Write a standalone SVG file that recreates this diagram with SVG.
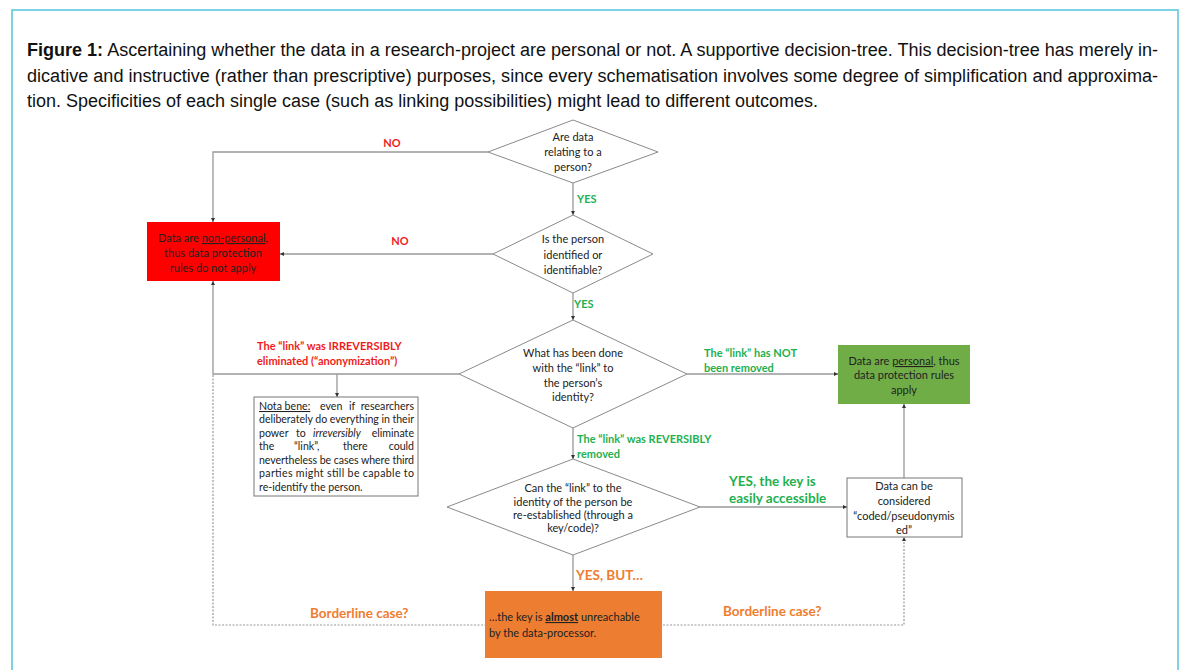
<svg xmlns="http://www.w3.org/2000/svg" width="1180" height="670" viewBox="0 0 1180 670">
<defs>
<marker id="ah" viewBox="0 0 6 6" refX="6" refY="3" markerWidth="4" markerHeight="4" markerUnits="userSpaceOnUse" orient="auto">
<path d="M0,0 L6,3 L0,6 Z" fill="#333"/>
</marker>
</defs>
<style>
.cap{font-family:"Liberation Sans",Arial,sans-serif;font-size:18px;fill:#111}
.t{font-family:Lato,"Open Sans",sans-serif;font-size:11px;fill:#222}
.nb{font-family:Lato,"Open Sans",sans-serif;font-size:10.6px;fill:#222}
.c{text-anchor:middle}
.lbl{font-family:Lato,"Open Sans",sans-serif;font-size:11px;font-weight:bold}
.big{font-family:Lato,"Open Sans",sans-serif;font-size:13.5px;font-weight:bold}
.red{fill:#ee1c1c}
.grn{fill:#1fb050}
.org{fill:#ef7d31}
.dia{fill:#fff;stroke:#8a8a8a;stroke-width:1}
.ln{fill:none;stroke:#999;stroke-width:1.3;marker-end:url(#ah)}
.dot{fill:none;stroke:#999;stroke-width:1.2;stroke-dasharray:2,1.5;marker-end:url(#ah)}
</style>
<rect x="0" y="0" width="1180" height="670" fill="#fff"/>
<rect x="12" y="10" width="1166" height="700" fill="none" stroke="#5cc8dc" stroke-width="1.6"/>
<g id="caption">
<text class="cap" x="27" y="56" textLength="1131" lengthAdjust="spacingAndGlyphs"><tspan font-weight="bold">Figure 1:</tspan> Ascertaining whether the data in a research-project are personal or not. A supportive decision-tree. This decision-tree has merely in-</text>
<text class="cap" x="27" y="82" textLength="1131" lengthAdjust="spacingAndGlyphs">dicative and instructive (rather than prescriptive) purposes, since every schematisation involves some degree of simplification and approxima-</text>
<text class="cap" x="27" y="107" textLength="791" lengthAdjust="spacingAndGlyphs">tion. Specificities of each single case (such as linking possibilities) might lead to different outcomes.</text>
</g>
<g id="connectors">
<path class="ln" d="M488,152 H213 V222"/>
<path class="ln" d="M573,183 V215"/>
<path class="ln" d="M493,254 H280"/>
<path class="ln" d="M573,293 V320"/>
<path class="ln" d="M459,374 H213 V281"/>
<path class="ln" d="M337,374 V397"/>
<path class="ln" d="M687,374 H838"/>
<path class="ln" d="M573,428 V459"/>
<path class="ln" d="M700,507 H847"/>
<path class="ln" d="M904,478 V404"/>
<path class="ln" d="M573,555 V591"/>
<path class="dot" d="M213,375 V625 H904 V537"/>
</g>
<g id="labels">
<text class="lbl red" x="392" y="147" text-anchor="middle">NO</text>
<text class="lbl red" x="400" y="245" text-anchor="middle">NO</text>
<text class="lbl grn" x="577" y="203">YES</text>
<text class="lbl grn" x="574" y="308">YES</text>
<text class="lbl red" x="257" y="350">The “link” was IRREVERSIBLY</text>
<text class="lbl red" x="257" y="365">eliminated (“anonymization”)</text>
<text class="lbl grn" x="704" y="357">The “link” has NOT</text>
<text class="lbl grn" x="704" y="372">been removed</text>
<text class="lbl grn" x="577" y="443">The “link” was REVERSIBLY</text>
<text class="lbl grn" x="577" y="458">removed</text>
<text class="big grn" x="729" y="486">YES, the key is</text>
<text class="big grn" x="729" y="503">easily accessible</text>
<text class="big org" x="576" y="580">YES, BUT…</text>
<text class="big org" x="310" y="618">Borderline case?</text>
<text class="big org" x="723" y="616">Borderline case?</text>
</g>
<g id="q1">
<polygon class="dia" points="573,120 658,152 573,183 488,152"/>
<text class="t c" x="573" y="141">Are data</text>
<text class="t c" x="573" y="156">relating to a</text>
<text class="t c" x="573" y="171">person?</text>
</g>
<g id="q2">
<polygon class="dia" points="573,215 653,254 573,293 493,254"/>
<text class="t c" x="573" y="243">Is the person</text>
<text class="t c" x="573" y="259">identified or</text>
<text class="t c" x="573" y="274">identifiable?</text>
</g>
<g id="q3">
<polygon class="dia" points="573,320 687,374 573,428 459,374"/>
<text class="t c" x="573" y="357">What has been done</text>
<text class="t c" x="573" y="372">with the  “link” to</text>
<text class="t c" x="573" y="387">the person’s</text>
<text class="t c" x="573" y="401">identity?</text>
</g>
<g id="q4">
<polygon class="dia" points="573,459 700,507 573,555 447,507"/>
<text class="t c" x="573" y="492">Can the “link” to the</text>
<text class="t c" x="573" y="506">identity of the person be</text>
<text class="t c" x="573" y="519">re-established (through a</text>
<text class="t c" x="573" y="532">key/code)?</text>
</g>
<g id="nonpersonal">
<rect x="147" y="222" width="133" height="59" fill="#ff0000"/>
<text class="t c" x="213" y="242" fill="#2a1414">Data are <tspan text-decoration="underline">non-personal</tspan>,</text>
<text class="t c" x="213" y="257" fill="#2a1414">thus data protection</text>
<text class="t c" x="213" y="272" fill="#2a1414">rules do not apply</text>
</g>
<g id="notabene">
<rect x="254" y="397" width="164" height="99" fill="#fff" stroke="#777" stroke-width="1"/>
<text class="nb" y="410"><tspan x="259" text-decoration="underline">Nota bene:</tspan><tspan x="320">even</tspan><tspan x="349">if</tspan><tspan x="414" text-anchor="end">researchers</tspan></text>
<text class="nb" x="259" y="423" textLength="155" lengthAdjust="spacing">deliberately do everything in their</text>
<text class="nb" y="437"><tspan x="259">power</tspan><tspan x="296">to</tspan><tspan x="313" font-style="italic">irreversibly</tspan><tspan x="414" text-anchor="end">eliminate</tspan></text>
<text class="nb" y="450"><tspan x="259">the</tspan><tspan x="294">“link”,</tspan><tspan x="343">there</tspan><tspan x="414" text-anchor="end">could</tspan></text>
<text class="nb" x="259" y="464" textLength="155" lengthAdjust="spacing">nevertheless be cases where third</text>
<text class="nb" x="259" y="477" textLength="155" lengthAdjust="spacing">parties might still be capable to</text>
<text class="nb" x="259" y="491">re-identify the person.</text>
</g>
<g id="personal">
<rect x="838" y="345" width="132" height="59" fill="#70ad47"/>
<text class="t c" x="904" y="365" fill="#eef3ea">Data are <tspan text-decoration="underline">personal</tspan>, thus</text>
<text class="t c" x="904" y="379" fill="#eef3ea">data protection rules</text>
<text class="t c" x="904" y="394" fill="#eef3ea">apply</text>
</g>
<g id="coded">
<rect x="847" y="478" width="115" height="59" fill="#fff" stroke="#777" stroke-width="1"/>
<text class="t c" x="904" y="490">Data can be</text>
<text class="t c" x="904" y="505">considered</text>
<text class="t c" x="904" y="520">“coded/pseudonymis</text>
<text class="t c" x="904" y="534">ed”</text>
</g>
<g id="almost">
<rect x="485" y="591" width="177" height="67" fill="#ed7d31"/>
<text class="t" x="489" y="621" fill="#fff">…the key is <tspan font-weight="bold" text-decoration="underline">almost</tspan> unreachable</text>
<text class="t" x="489" y="637" fill="#fff">by the data-processor.</text>
</g>
</svg>
